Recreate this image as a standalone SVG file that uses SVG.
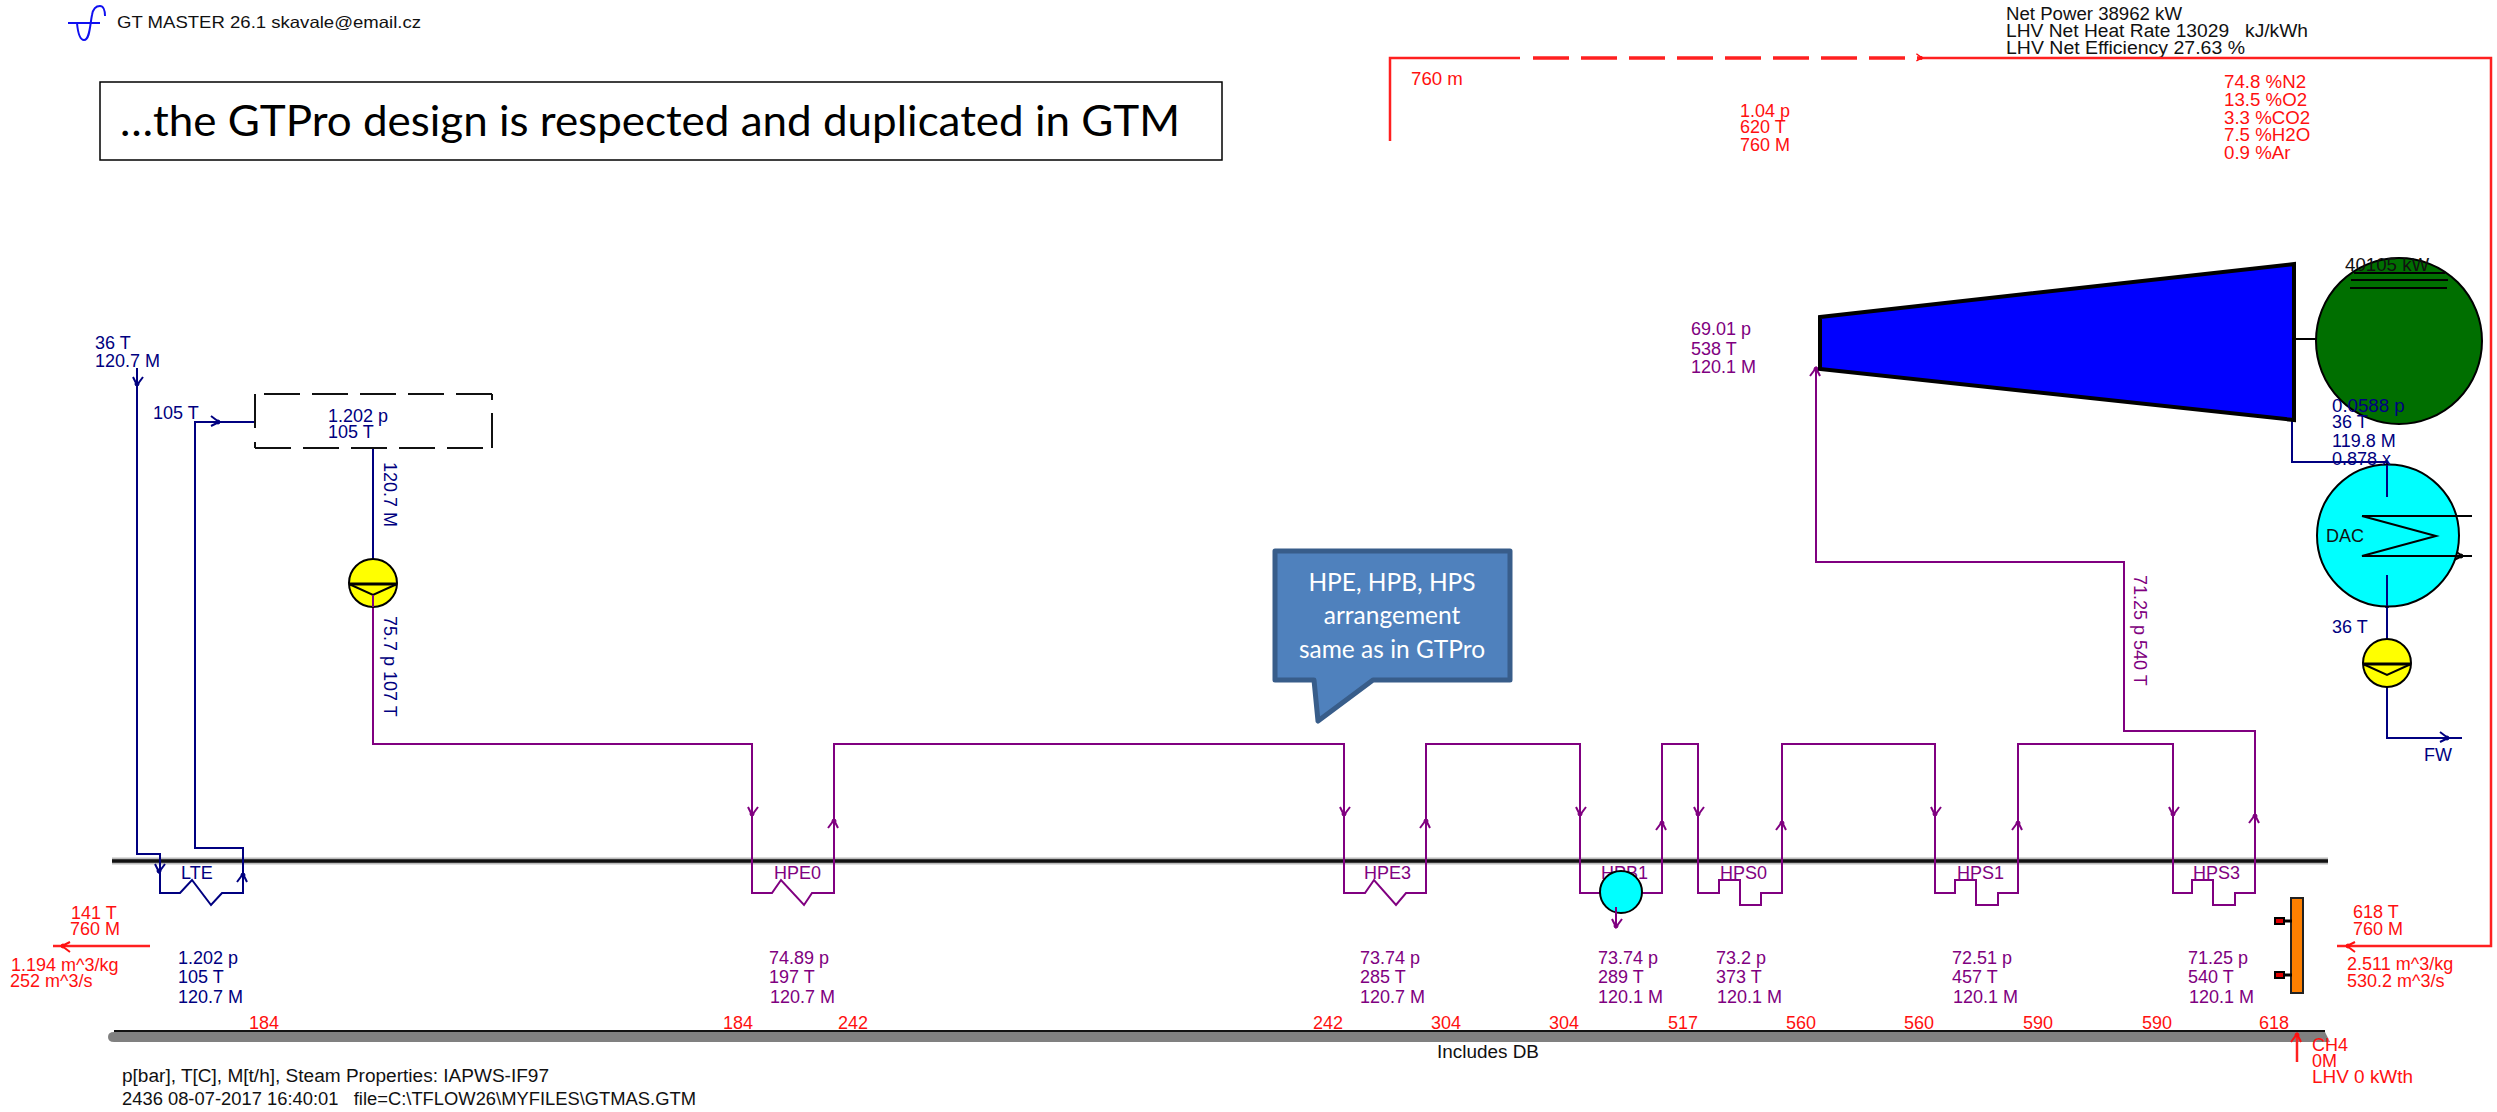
<svg xmlns="http://www.w3.org/2000/svg" width="2497" height="1112" viewBox="0 0 2497 1112">
<style>
text{font-family:"Liberation Sans",Arial,sans-serif;font-size:18px}
.b{fill:#000080}.p{fill:#800080}.r{fill:#ff1010}.k{fill:#111}
.lb{fill:none;stroke:#000080;stroke-width:2}
.lp{fill:none;stroke:#800080;stroke-width:2}
.lr{fill:none;stroke:#ff2020;stroke-width:2.5}
.lk{fill:none;stroke:#000;stroke-width:2}
.pump{fill:#ffff00;stroke:#000;stroke-width:2}
.dash{fill:none;stroke:#111;stroke-width:2}
.call{font-family:Lato,"Liberation Sans",sans-serif;font-size:24.500px;fill:#fff;text-anchor:middle}
.big{font-size:18.700px}
</style>
<defs>
<g id="ah"><path d="M-4,-8 L0,0 L6,-8" fill="none" stroke-width="2"/><circle cx="0" cy="-1" r="2"/></g>
</defs>
<rect width="2497" height="1112" fill="#fff"/>

<g id="logo">
<path d="M68,23 H100" fill="none" stroke="#1010f0" stroke-width="2"/>
<path d="M77,23 C78,34 80,40 84,40 C90,40 90,24 92,15 C93,9 96,6 100,6 C103,6 105,10 105,16" fill="none" stroke="#1010f0" stroke-width="2"/>
<text x="117" y="28" class="k" style="font-size:16.500px" textLength="304" lengthAdjust="spacingAndGlyphs">GT MASTER 26.1 skavale@email.cz</text>
</g>
<g id="title">
<rect x="100" y="82" width="1122" height="78" fill="#fff" stroke="#000" stroke-width="1.5"/>
<text x="120" y="136" fill="#000" style="font-family:Lato,'Liberation Sans',sans-serif;font-size:43px" textLength="1060" lengthAdjust="spacingAndGlyphs">…the GTPro design is respected and duplicated in GTM</text>
</g>
<g id="summary">
<text x="2006" y="20" class="k" textLength="176" lengthAdjust="spacingAndGlyphs">Net Power 38962 kW</text>
<text x="2006" y="37" class="k" xml:space="preserve" textLength="302" lengthAdjust="spacingAndGlyphs">LHV Net Heat Rate 13029   kJ/kWh</text>
<text x="2006" y="54" class="k" textLength="239" lengthAdjust="spacingAndGlyphs">LHV Net Efficiency 27.63 %</text>
</g>

<g id="buses">
<line x1="112" y1="861" x2="2328" y2="861" stroke="#bbb" stroke-width="7"/>
<line x1="112" y1="861" x2="2328" y2="861" stroke="#111" stroke-width="3.500"/>
<path d="M114,1032 H2325 L2330,1042 H114 Q108,1042 108,1037 Q108,1032 114,1032Z" fill="#808080"/>
<line x1="114" y1="1031" x2="2325" y2="1031" stroke="#111" stroke-width="2"/>
<text x="1437" y="1058" class="k" textLength="102" lengthAdjust="spacingAndGlyphs">Includes DB</text>
</g>

<g id="connectors">
<path d="M1390,141 V58 H1520" class="lr"/>
<path d="M1533,58 H1922" class="lr" stroke-dasharray="36 12" style="stroke-width:3.500"/>
<path d="M1922,58 H2491 V946 H2337" class="lr"/>
<path d="M150,946 H53" class="lr"/>
<path d="M2297,1062 V1033" class="lr"/>
<path class="lb" d="M137,368 V854 H160 V893"/>
<path class="lb" d="M159,893 H180 L192,880 L211,905 L222,893 H243 V848 H195 V422 H255"/>
<path class="lb" d="M373,448 V560"/>
<path class="lb" d="M2292,420 V462 H2387 V497"/>
<path class="lb" d="M2387,575 V640"/>
<path class="lb" d="M2387,675 V738 H2462"/>
<path class="lp" d="M373,595 V744 H752 V893 H772 L781,880 L804,905 L812,893 H834 V744 H1344 V893 H1365 L1374,880 L1396,905 L1406,893 H1426 V744 H1580 V893 H1662 V744 H1698 V893 H1719 V880 H1740 V905 H1761 V893 H1782 V744 H1935 V893 H1955 V880 H1976 V905 H1998 V893 H2018 V744 H2173 V893 H2192 V880 H2213 V905 H2235 V893 H2255 V731 H2124 V562 H1816 V368"/>
<g stroke="#000080" fill="#000080">
<use href="#ah" transform="translate(137,385)"/>
<use href="#ah" transform="translate(159,872)"/>
<use href="#ah" transform="translate(243,874) rotate(180)"/>
<use href="#ah" transform="translate(219,422) rotate(-90)"/>
<use href="#ah" transform="translate(2387,496)"/>
<use href="#ah" transform="translate(2387,607)"/>
<use href="#ah" transform="translate(2448,738) rotate(-90)"/>
<use href="#ah" transform="translate(2462,556) rotate(-90)" stroke="#000" fill="#000"/>
</g>
<g stroke="#800080" fill="#800080">
<use href="#ah" transform="translate(752,815)"/>
<use href="#ah" transform="translate(834,820) rotate(180)"/>
<use href="#ah" transform="translate(1344,815)"/>
<use href="#ah" transform="translate(1426,820) rotate(180)"/>
<use href="#ah" transform="translate(1580,815)"/>
<use href="#ah" transform="translate(1662,822) rotate(180)"/>
<use href="#ah" transform="translate(1698,815)"/>
<use href="#ah" transform="translate(1782,822) rotate(180)"/>
<use href="#ah" transform="translate(1935,815)"/>
<use href="#ah" transform="translate(2018,822) rotate(180)"/>
<use href="#ah" transform="translate(2173,815)"/>
<use href="#ah" transform="translate(2255,815) rotate(180)"/>
<use href="#ah" transform="translate(1816,368) rotate(180)"/>
</g>
<g stroke="#ff1010" fill="#ff1010">
<use href="#ah" transform="translate(1922,58) rotate(-90) scale(.7)"/>
<use href="#ah" transform="translate(2347,946) rotate(90)"/>
<use href="#ah" transform="translate(62,946) rotate(90)"/>
<use href="#ah" transform="translate(2297,1034) rotate(180)"/>
</g>
</g>

<g id="stack-labels">
<text x="1411" y="85" class="r big">760 m</text>
<text x="1740" y="117" class="r">1.04 p</text>
<text x="1740" y="133" class="r">620 T</text>
<text x="1740" y="151" class="r">760 M</text>
<text x="2224" y="88" class="r big">74.8 %N2</text>
<text x="2224" y="106" class="r big">13.5 %O2</text>
<text x="2224" y="124" class="r big">3.3 %CO2</text>
<text x="2224" y="141" class="r big">7.5 %H2O</text>
<text x="2224" y="159" class="r big">0.9 %Ar</text>
</g>

<g id="make-up">
<text x="95" y="349" class="b">36 T</text>
<text x="95" y="367" class="b">120.7 M</text>
<text x="153" y="419" class="b">105 T</text>
</g>
<g id="deaerator">
<path class="dash" d="M264,394 H492" stroke-dasharray="36 12"/>
<path class="dash" d="M255,448 H492" stroke-dasharray="36 12"/>
<path class="dash" d="M255,394 V428 M255,442 V448"/>
<path class="dash" d="M492,394 V400 M492,413 V448"/>
<text x="328" y="422" class="b">1.202 p</text>
<text x="328" y="438" class="b">105 T</text>
<text transform="translate(384,462) rotate(90)" class="b">120.7 M</text>
</g>
<g id="feed-pump">
<circle cx="373" cy="583" r="24" class="pump"/>
<path d="M349,584 H397" stroke="#000" stroke-width="3"/>
<path d="M349,584 L373,595 L397,584" class="lk"/>
<path d="M373,595 V607" class="lp"/>
<text transform="translate(384,616) rotate(90)" class="b">75.7 p 107 T</text>
</g>
<g id="turbine">
<path d="M1820,317 L2294,264 V420 L1820,369Z" fill="#0000ff" stroke="#000" stroke-width="4"/>
<text x="1691" y="335" class="p">69.01 p</text>
<text x="1691" y="355" class="p">538 T</text>
<text x="1691" y="373" class="p">120.1 M</text>
</g>
<g id="hot-reheat-label">
<text transform="translate(2134,575) rotate(90)" class="p">71.25 p 540 T</text>
</g>
<g id="generator">
<line x1="2294" y1="339" x2="2316" y2="339" class="lk"/>
<circle cx="2399" cy="341" r="83" fill="#006f00" stroke="#000" stroke-width="2"/>
<path d="M2354,273 H2445 M2351,280 H2448 M2350,288 H2447" class="lk"/>
<text x="2345" y="271" class="k big">40105 kW</text>
</g>
<g id="condenser">
<circle cx="2388" cy="535.500" r="71" fill="#00ffff" stroke="#000" stroke-width="2"/>
<path d="M2362,516 H2472 M2362,516 L2436,536 L2362,556 H2472" class="lk"/>
<text x="2326" y="542" class="k">DAC</text>
<path d="M2387,575 V606" class="lb"/>
<path d="M2387,465 V497" class="lb"/>
</g>
<g id="condenser-labels">
<text x="2332" y="412" class="b big">0.0588 p</text>
<text x="2332" y="428" class="b">36 T</text>
<text x="2332" y="447" class="b">119.8 M</text>
<text x="2332" y="465" class="b">0.878 x</text>
</g>
<g id="condensate-pump">
<circle cx="2387" cy="663" r="24" class="pump"/>
<path d="M2363,664 H2411" stroke="#000" stroke-width="3"/>
<path d="M2363,664 L2387,675 L2411,664" class="lk"/>
<text x="2332" y="633" class="b">36 T</text>
<text x="2424" y="761" class="b">FW</text>
</g>

<g id="LTE">
<text x="181" y="879" class="b">LTE</text>
<text x="178" y="964" class="b">1.202 p</text>
<text x="178" y="983" class="b">105 T</text>
<text x="178" y="1003" class="b">120.7 M</text>
</g>
<g id="HPE0">
<text x="774" y="879" class="p">HPE0</text>
<text x="769" y="964" class="p">74.89 p</text>
<text x="769" y="983" class="p">197 T</text>
<text x="770" y="1003" class="p">120.7 M</text>
</g>
<g id="HPE3">
<text x="1364" y="879" class="p">HPE3</text>
<text x="1360" y="964" class="p">73.74 p</text>
<text x="1360" y="983" class="p">285 T</text>
<text x="1360" y="1003" class="p">120.7 M</text>
</g>
<g id="HPB1">
<text x="1601" y="879" class="p">HPB1</text>
<circle cx="1621" cy="892" r="21" fill="#00ffff" stroke="#000" stroke-width="2"/>
<path d="M1616,907 V926" class="lp"/>
<use href="#ah" transform="translate(1616,927)" stroke="#800080" fill="#800080"/>
<text x="1598" y="964" class="p">73.74 p</text>
<text x="1598" y="983" class="p">289 T</text>
<text x="1598" y="1003" class="p">120.1 M</text>
</g>
<g id="HPS0">
<text x="1720" y="879" class="p">HPS0</text>
<text x="1716" y="964" class="p">73.2 p</text>
<text x="1716" y="983" class="p">373 T</text>
<text x="1717" y="1003" class="p">120.1 M</text>
</g>
<g id="HPS1">
<text x="1957" y="879" class="p">HPS1</text>
<text x="1952" y="964" class="p">72.51 p</text>
<text x="1952" y="983" class="p">457 T</text>
<text x="1953" y="1003" class="p">120.1 M</text>
</g>
<g id="HPS3">
<text x="2193" y="879" class="p">HPS3</text>
<text x="2188" y="964" class="p">71.25 p</text>
<text x="2188" y="983" class="p">540 T</text>
<text x="2189" y="1003" class="p">120.1 M</text>
</g>

<g id="gas-temps">
<text x="249" y="1029" class="r">184</text>
<text x="723" y="1029" class="r">184</text>
<text x="838" y="1029" class="r">242</text>
<text x="1313" y="1029" class="r">242</text>
<text x="1431" y="1029" class="r">304</text>
<text x="1549" y="1029" class="r">304</text>
<text x="1668" y="1029" class="r">517</text>
<text x="1786" y="1029" class="r">560</text>
<text x="1904" y="1029" class="r">560</text>
<text x="2023" y="1029" class="r">590</text>
<text x="2142" y="1029" class="r">590</text>
<text x="2259" y="1029" class="r">618</text>
</g>

<g id="duct-burner">
<rect x="2291" y="898" width="12" height="95" fill="#ff8000" stroke="#222" stroke-width="2"/>
<path d="M2283,921 H2292 M2283,975 H2292" stroke="#000" stroke-width="3"/>
<rect x="2275" y="918" width="9" height="6" fill="#e00000" stroke="#000" stroke-width="2"/>
<rect x="2275" y="972" width="9" height="6" fill="#e00000" stroke="#000" stroke-width="2"/>
</g>
<g id="gas-inlet">
<text x="2353" y="918" class="r">618 T</text>
<text x="2353" y="935" class="r">760 M</text>
<text x="2347" y="970" class="r">2.511 m^3/kg</text>
<text x="2347" y="987" class="r">530.2 m^3/s</text>
</g>
<g id="gas-outlet">
<text x="71" y="919" class="r">141 T</text>
<text x="70" y="935" class="r">760 M</text>
<text x="11" y="971" class="r">1.194 m^3/kg</text>
<text x="10" y="987" class="r">252 m^3/s</text>
</g>
<g id="fuel">
<text x="2312" y="1051" class="r">CH4</text>
<text x="2312" y="1067" class="r">0M</text>
<text x="2312" y="1083" class="r" textLength="101" lengthAdjust="spacingAndGlyphs">LHV 0 kWth</text>
</g>
<g id="footer">
<text x="122" y="1082" class="k" textLength="427" lengthAdjust="spacingAndGlyphs">p[bar], T[C], M[t/h], Steam Properties: IAPWS-IF97</text>
<text x="122" y="1105" class="k" xml:space="preserve" textLength="574" lengthAdjust="spacingAndGlyphs">2436 08-07-2017 16:40:01   file=C:\TFLOW26\MYFILES\GTMAS.GTM</text>
</g>
<g id="callout">
<path d="M1275,551 H1510 V680 H1373 L1318,721 L1314,680 H1275Z" fill="#4f81bd" stroke="#385d8a" stroke-width="5" stroke-linejoin="round"/>
<text x="1392" y="591" class="call">HPE, HPB, HPS</text>
<text x="1392" y="624" class="call">arrangement</text>
<text x="1392" y="658" class="call">same as in GTPro</text>
</g>
</svg>
